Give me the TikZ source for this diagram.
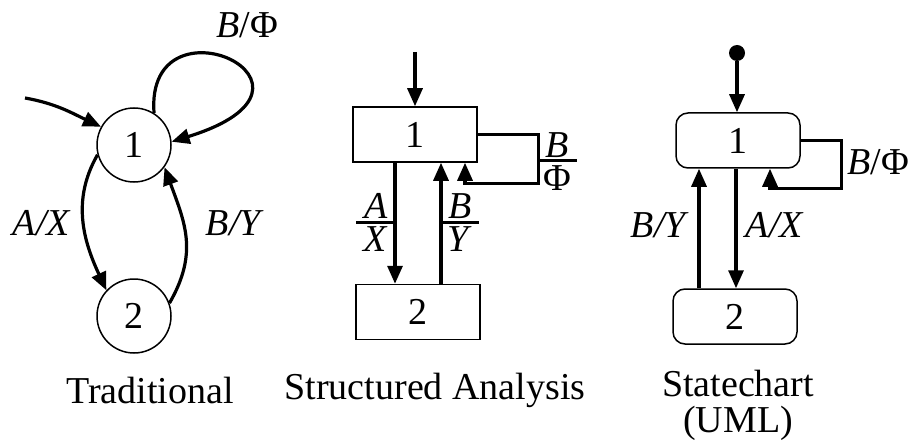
\documentclass[tikz,border=0pt]{standalone}
\usepackage{fontspec}
\setmainfont{Liberation Serif}
\usetikzlibrary{arrows.meta,positioning}

\begin{document}
\begin{tikzpicture}[x=0.5pt,y=-0.5pt,
  every node/.style={font=\fontsize{19}{22}\selectfont},
  trans/.style={line width=1.6pt,-{Triangle[length=9pt,width=7.5pt]}},
  bar/.style={line width=1.5pt},
  state/.style={draw,line width=0.75pt,circle,minimum size=37pt,inner sep=0pt},
  sabox/.style={draw,line width=0.75pt,minimum width=62pt,minimum height=27.5pt,inner sep=0pt},
  scbox/.style={sabox,rounded corners=6pt},
  lbl/.style={inner sep=1pt},
  frac/.style={inner sep=0pt},
  caption/.style={align=center,font=\fontsize{19}{18}\selectfont}]
  \useasboundingbox (0,0) rectangle (913,443);

  % Traditional
  \node[state] (t1) at (134,145) {1};
  \node[state] (t2) at (134,316) {2};
  \coordinate (tin) at (25,98);
  \draw[trans] (tin) to[out=-10,in=155] (t1.151);
  \draw[trans] (t1.58) .. controls (145,-10) and (355,85) .. (t1.5);
  \draw[trans] (t1.195) to[out=240,in=115] (t2.137);
  \draw[trans] (t2.20) to[out=60,in=-70,looseness=1.1] (t1.-36);
  \node[lbl] (tbphi) at (247,25) {\textit{B}/Φ};
  \node[lbl] (tax) at (42,223) {\textit{A/X}};
  \node[lbl] (tby) at (235,223) {\textit{B/Y}};
  \node[caption] (tcap) at (150,390) {Traditional};

  % Structured Analysis
  \node[sabox] (s1) at (415,134.5) {1};
  \node[sabox] (s2) at (418,312) {2};
  \coordinate (sin) at (415,52);
  \draw[trans] (sin) -- (s1.north);
  \draw[trans] ([xshift=-10pt]s1.south) -- ([xshift=-10pt]s1.south |- s2.north);
  \draw[trans] ([xshift=13pt]s1.south |- s2.north) -- ([xshift=13pt]s1.south);
  \draw[trans] (s1.east) -- ++(30.5pt,0) |- ([xshift=25pt,yshift=-10.5pt]s1.south)
    -- ([xshift=25pt]s1.south);
  % fraction labels
  \draw[bar] (356,222) -- (395,222);
  \node[frac,anchor=south] (sa) at (376,219) {\textit{A}};
  \node[frac,anchor=north] (sx) at (376,226) {\textit{X}};
  \draw[bar] (441,222) -- (479,222);
  \node[frac,anchor=south] (sb) at (460,219) {\textit{B}};
  \node[frac,anchor=north] (sy) at (460,226) {\textit{Y}};
  \draw[bar] (538,161) -- (577,161);
  \node[frac,anchor=south] (sb2) at (557,158) {\textit{B}};
  \node[frac,anchor=north] (sphi) at (557,165) {Φ};
  \node[caption] (scap) at (435,390) {Structured Analysis};

  % Statechart (UML)
  \node[scbox] (u1) at (738,140.5) {1};
  \node[scbox] (u2) at (735,316.5) {2};
  \node[circle,fill,minimum size=8pt,inner sep=0pt] (uinit) at (737,53) {};
  \draw[trans] (uinit) -- (uinit |- u1.north);
  \draw[trans] ([xshift=-1pt]u1.south) -- ([xshift=-1pt]u1.south |- u2.north);
  \draw[trans] ([xshift=-19.5pt]u1.south |- u2.north) -- ([xshift=-19.5pt]u1.south);
  \draw[trans] (u1.east) -- ++(20.5pt,0) |- ([xshift=16pt,yshift=-10pt]u1.south)
    -- ([xshift=16pt]u1.south);
  \node[lbl] (uby) at (660,225) {\textit{B/Y}};
  \node[lbl] (uax) at (775,225) {\textit{A/X}};
  \node[lbl] (ubphi) at (878,162) {\textit{B}/Φ};
  \node[caption] (ucap) at (738,405) {Statechart\\(UML)};
\end{tikzpicture}
\end{document}
